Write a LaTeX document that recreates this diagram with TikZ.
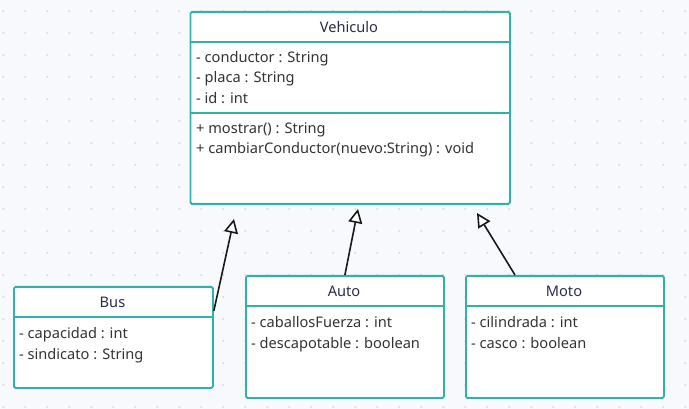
\documentclass[tikz,border=0pt]{standalone}
\usepackage{fontspec}
\setmainfont{Noto Sans}
\usetikzlibrary{arrows.meta,calc}
\definecolor{teal1}{HTML}{2DB3AB}
\definecolor{bgc}{HTML}{F8F9FC}
\definecolor{dotc}{HTML}{DADAE2}
\definecolor{titc}{HTML}{2A2C4C}
\definecolor{txtc}{HTML}{333333}
\tikzset{
  cls/.style={draw=teal1, line width=1.8pt, fill=white, rounded corners=1.5pt, anchor=north west, inner sep=0pt},
  sep/.style={draw=teal1, line width=1.8pt},
  title/.style={text=titc, font=\fontsize{14.6}{16}\selectfont, inner sep=0pt, text height=10.5pt, text depth=3.5pt, yshift=-1.5pt},
  attr/.style={text=txtc, font=\fontsize{14.6}{16}\selectfont, anchor=west, inner sep=0pt, text height=10.5pt, text depth=3.5pt, yshift=-1.5pt},
  gen/.style={draw=black!90, line width=1.6pt, -{Triangle[open, length=14pt, width=14pt, fill=white]}},
}
\begin{document}
\begin{tikzpicture}[x=1pt,y=-1pt]
\useasboundingbox (0,0) rectangle (689,409);
\fill[bgc] (0,0) rectangle (689,409);
\foreach \i in {0,...,31} {\foreach \j in {0,...,18} {\fill[dotc] (3.3+22*\i,11+22*\j) circle (1.1pt);}}
% Vehiculo
\node[cls, minimum width=319.5pt, minimum height=192pt] (veh) at (189.5,11) {};
\node[title] (vehT) at (349,28) {Vehiculo};
\draw[sep] (189.5,42) -- (509,42);
\draw[sep] (189.5,113) -- (509,113);
\node[attr] (va1) at (196,58) {- conductor : String};
\node[attr] (va2) at (196,78) {- placa : String};
\node[attr] (va3) at (196,99) {- id : int};
\node[attr] (vm1) at (196,129) {+ mostrar() : String};
\node[attr] (vm2) at (196,149) {+ cambiarConductor(nuevo:String) : void};
% Bus
\node[cls, minimum width=199pt, minimum height=101pt] (bus) at (13,286) {};
\node[title] (busT) at (112.5,303) {Bus};
\draw[sep] (13,317) -- (212,317);
\node[attr] (ba1) at (19,333) {- capacidad : int};
\node[attr] (ba2) at (19,354) {- sindicato : String};
% Auto
\node[cls, minimum width=198pt, minimum height=122pt] (auto) at (245,275) {};
\node[title] (autoT) at (344,292) {Auto};
\draw[sep] (245,306) -- (443,306);
\node[attr] (aa1) at (251,322) {- caballosFuerza : int};
\node[attr] (aa2) at (251,343) {- descapotable : boolean};
% Moto
\node[cls, minimum width=198pt, minimum height=122pt] (moto) at (465,275) {};
\node[title] (motoT) at (564,292) {Moto};
\draw[sep] (465,306) -- (663,306);
\node[attr] (ma1) at (471,322) {- cilindrada : int};
\node[attr] (ma2) at (471,343) {- casco : boolean};
% arrows
\coordinate (tBus) at (234,219);
\coordinate (tAuto) at (358,209);
\coordinate (tMoto) at (477,213);
\coordinate (sBus) at ($(bus.north east)+(0,25)$);
\coordinate (sMoto) at ($(moto.north west)+(50,0)$);
\draw[gen] (sBus) -- (tBus);
\draw[gen] (auto.north) -- (tAuto);
\draw[gen] (sMoto) -- (tMoto);
\end{tikzpicture}
\end{document}
